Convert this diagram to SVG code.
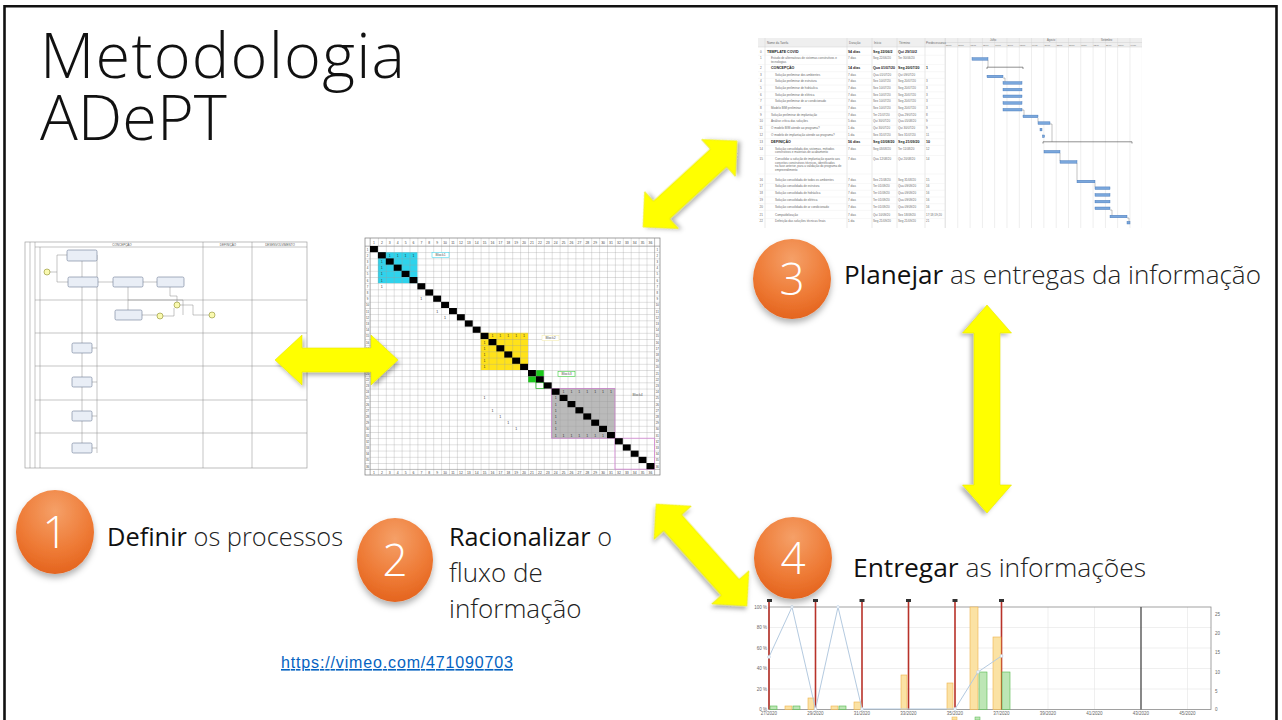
<svg xmlns="http://www.w3.org/2000/svg" width="1282" height="720" viewBox="0 0 1282 720">
<defs>
<style>
.ttl{font-family:"Open Sans","Lato",sans-serif;font-weight:300;font-size:63px;fill:#111}
.lbl{font-family:"Open Sans","Lato",sans-serif;font-weight:300;font-size:26px;fill:#222}
.lbl .b{font-weight:400;fill:#111}
.dig{font-family:"Open Sans","Lato",sans-serif;font-weight:300;font-size:44px;fill:#fff;text-anchor:middle}
.ya{fill:#FFFF00;stroke:#E6E600;stroke-width:.6;filter:url(#ash)}
.oc{fill:url(#og);filter:url(#csh)}
.link{font-family:"Liberation Sans",Arial,sans-serif;font-size:16px;fill:#0563C1;text-decoration:underline}
.bp{fill:#E9EEF6;stroke:#6C7B95;stroke-width:.6}
.bl{fill:none;stroke:#8a8a8a;stroke-width:.5}
.bev{fill:#FAFAB0;stroke:#8C8C2A;stroke-width:.6}
.tiny{font-family:"Liberation Sans",Arial,sans-serif;fill:#555}
.dn{font-size:3.4px;text-anchor:middle;fill:#444}
.d1{font-size:3.6px;text-anchor:middle;fill:#333}
.gt{font-size:3px;fill:#6a6a6a}
.gb{font-size:3.6px;font-weight:bold;fill:#222}
.gbar{fill:#7AA7DC;stroke:#3F72B5;stroke-width:.4}
.gsum{fill:none;stroke:#444;stroke-width:.6}
.ax{font-size:4.5px;fill:#666}
.yb{fill:#FBE2A4;stroke:#EDB24A;stroke-width:.6}
.gr{fill:#BDE6B5;stroke:#55B84C;stroke-width:.6}
.rl{stroke:#B8322A;stroke-width:1.6}
.gl{stroke:#E4E4E4;stroke-width:.6}
</style>
<radialGradient id="og" cx="50%" cy="25%" r="80%">
<stop offset="0" stop-color="#F5A068"/>
<stop offset="0.6" stop-color="#EE7A35"/>
<stop offset="1" stop-color="#E2601A"/>
</radialGradient>
<filter id="ash" x="-20%" y="-20%" width="140%" height="140%">
<feDropShadow dx="2" dy="3" stdDeviation="2" flood-color="#000" flood-opacity="0.3"/>
</filter>
<filter id="csh" x="-30%" y="-30%" width="160%" height="160%">
<feDropShadow dx="0" dy="4" stdDeviation="3" flood-color="#000" flood-opacity="0.3"/>
</filter>
<pattern id="dv" x="370" y="0" width="7.9" height="10" patternUnits="userSpaceOnUse"><path d="M0.2,0V10" stroke="#9a9a9a" stroke-width=".45"/></pattern>
<pattern id="dh" x="0" y="246" width="10" height="6.2" patternUnits="userSpaceOnUse"><path d="M0,0.2H10" stroke="#9a9a9a" stroke-width=".45"/></pattern>
<pattern id="gv" x="945" y="0" width="12.3" height="10" patternUnits="userSpaceOnUse"><path d="M0.25,0V10" stroke="#cfcfcf" stroke-width=".5"/></pattern>
<rect id="bk" width="7.9" height="6.2" fill="#000"/>
</defs>

<rect width="1282" height="720" fill="#fff"/>
<path d="M4.5,720V6.2H1276.5V720" fill="none" stroke="#111" stroke-width="2.6"/>

<g id="title">
<text class="ttl" x="40" y="78" textLength="365">Metodologia</text>
<text class="ttl" x="40" y="140">ADePT</text>
</g>

<!-- BPMN process screenshot -->
<g id="bpmn">
<rect x="25" y="242" width="282" height="226" fill="#fff" stroke="#a0a0a0" stroke-width=".7"/>
<path class="bl" d="M35,247H307M30,242V468M35,242V468M40,247V468M203,242V468M252,242V468M35,300H307M35,333H307M35,366H307M35,400H307M35,433H307"/>
<text class="tiny" font-size="3" x="122" y="245.6" text-anchor="middle">CONCEPÇÃO</text>
<text class="tiny" font-size="3" x="228" y="245.6" text-anchor="middle">DEFINIÇÃO</text>
<text class="tiny" font-size="3" x="280" y="245.6" text-anchor="middle">DESENVOLVIMENTO</text>
<path class="bl" stroke="#777" d="M50,272H57V255H67M57,272V282H68M82,261V277M98,282H113M143,282H157M170,287V296H177V302M128,287V310M142,315H157M163,316H174V308M128,300H183V315M180,305H193V315H209M82,287V343M82,353V377M82,387V411M82,421V443M97,255V453M92,348H97M92,382H97M92,416H97M92,448H97"/>
<rect class="bp" x="67" y="250" width="30" height="11" rx="1.5"/>
<rect class="bp" x="68" y="277" width="30" height="10" rx="1.5"/>
<rect class="bp" x="113" y="277" width="30" height="10" rx="1.5"/>
<rect class="bp" x="157" y="277" width="27" height="10" rx="1.5"/>
<rect class="bp" x="115" y="310" width="27" height="10" rx="1.5"/>
<rect class="bp" x="72" y="343" width="20" height="10" rx="1.5"/>
<rect class="bp" x="72" y="377" width="20" height="10" rx="1.5"/>
<rect class="bp" x="72" y="411" width="20" height="10" rx="1.5"/>
<rect class="bp" x="72" y="443" width="20" height="10" rx="1.5"/>
<circle class="bev" cx="47" cy="272" r="3"/>
<circle class="bev" cx="160" cy="316" r="3"/>
<circle class="bev" cx="177" cy="305" r="3"/>
<circle class="bev" cx="212" cy="315" r="3" stroke-width="1"/>
</g>

<!-- DSM matrix -->
<g id="dsm">
<rect x="365" y="238" width="295" height="237" fill="#fff"/>
<rect x="377.9" y="252.2" width="39.5" height="31" fill="#2FD3EC"/>
<rect x="480.6" y="332.8" width="47.4" height="37.2" fill="#FFE21A"/>
<rect x="551.7" y="388.6" width="63.2" height="49.6" fill="#BABABA"/>
<rect x="535.9" y="370" width="7.9" height="6.2" fill="#1DC81D"/>
<rect x="528" y="376.2" width="7.9" height="6.2" fill="#1DC81D"/>
<rect x="370" y="238" width="284.6" height="237" fill="url(#dv)"/>
<rect x="365" y="246" width="295" height="223.4" fill="url(#dh)"/>
<rect x="365" y="238" width="295" height="237" fill="none" stroke="#777" stroke-width=".7"/>
<path d="M365,246H660M365,469.4H660M370,238V475M654.6,238V475" stroke="#888" stroke-width=".5"/>
<rect x="551.7" y="388.6" width="63.2" height="49.6" fill="none" stroke="#C67CC6" stroke-width=".8"/>
<rect x="614.9" y="438.2" width="39.5" height="31" fill="none" stroke="#D98AD9" stroke-width=".8"/>
<rect x="535.9" y="382.4" width="7.9" height="6.2" fill="none" stroke="#1DB81D" stroke-width=".7"/>
<use href="#bk" x="370" y="246"/><use href="#bk" x="377.9" y="252.2"/><use href="#bk" x="385.8" y="258.4"/><use href="#bk" x="393.7" y="264.6"/><use href="#bk" x="401.6" y="270.8"/><use href="#bk" x="409.5" y="277"/><use href="#bk" x="417.4" y="283.2"/><use href="#bk" x="425.3" y="289.4"/><use href="#bk" x="433.2" y="295.6"/><use href="#bk" x="441.1" y="301.8"/><use href="#bk" x="449" y="308"/><use href="#bk" x="456.9" y="314.2"/><use href="#bk" x="464.8" y="320.4"/><use href="#bk" x="472.7" y="326.6"/><use href="#bk" x="480.6" y="332.8"/><use href="#bk" x="488.5" y="339"/><use href="#bk" x="496.4" y="345.2"/><use href="#bk" x="504.3" y="351.4"/><use href="#bk" x="512.2" y="357.6"/><use href="#bk" x="520.1" y="363.8"/><use href="#bk" x="528" y="370"/><use href="#bk" x="535.9" y="376.2"/><use href="#bk" x="543.8" y="382.4"/><use href="#bk" x="551.7" y="388.6"/><use href="#bk" x="559.6" y="394.8"/><use href="#bk" x="567.5" y="401"/><use href="#bk" x="575.4" y="407.2"/><use href="#bk" x="583.3" y="413.4"/><use href="#bk" x="591.2" y="419.6"/><use href="#bk" x="599.1" y="425.8"/><use href="#bk" x="607" y="432"/><use href="#bk" x="614.9" y="438.2"/><use href="#bk" x="622.8" y="444.4"/><use href="#bk" x="630.7" y="450.6"/><use href="#bk" x="638.6" y="456.8"/><use href="#bk" x="646.5" y="463"/>
<text class="tiny dn" y="244.2"><tspan x="374">1</tspan><tspan x="381.9">2</tspan><tspan x="389.8">3</tspan><tspan x="397.7">4</tspan><tspan x="405.6">5</tspan><tspan x="413.5">6</tspan><tspan x="421.4">7</tspan><tspan x="429.3">8</tspan><tspan x="437.2">9</tspan><tspan x="445.1">10</tspan><tspan x="453">11</tspan><tspan x="460.9">12</tspan><tspan x="468.8">13</tspan><tspan x="476.7">14</tspan><tspan x="484.6">15</tspan><tspan x="492.5">16</tspan><tspan x="500.4">17</tspan><tspan x="508.3">18</tspan><tspan x="516.2">19</tspan><tspan x="524.1">20</tspan><tspan x="532">21</tspan><tspan x="539.9">22</tspan><tspan x="547.8">23</tspan><tspan x="555.7">24</tspan><tspan x="563.6">25</tspan><tspan x="571.5">26</tspan><tspan x="579.4">27</tspan><tspan x="587.3">28</tspan><tspan x="595.2">29</tspan><tspan x="603.1">30</tspan><tspan x="611">31</tspan><tspan x="618.9">32</tspan><tspan x="626.8">33</tspan><tspan x="634.7">34</tspan><tspan x="642.6">35</tspan><tspan x="650.5">36</tspan></text>
<text class="tiny dn" y="473.6"><tspan x="374">1</tspan><tspan x="381.9">2</tspan><tspan x="389.8">3</tspan><tspan x="397.7">4</tspan><tspan x="405.6">5</tspan><tspan x="413.5">6</tspan><tspan x="421.4">7</tspan><tspan x="429.3">8</tspan><tspan x="437.2">9</tspan><tspan x="445.1">10</tspan><tspan x="453">11</tspan><tspan x="460.9">12</tspan><tspan x="468.8">13</tspan><tspan x="476.7">14</tspan><tspan x="484.6">15</tspan><tspan x="492.5">16</tspan><tspan x="500.4">17</tspan><tspan x="508.3">18</tspan><tspan x="516.2">19</tspan><tspan x="524.1">20</tspan><tspan x="532">21</tspan><tspan x="539.9">22</tspan><tspan x="547.8">23</tspan><tspan x="555.7">24</tspan><tspan x="563.6">25</tspan><tspan x="571.5">26</tspan><tspan x="579.4">27</tspan><tspan x="587.3">28</tspan><tspan x="595.2">29</tspan><tspan x="603.1">30</tspan><tspan x="611">31</tspan><tspan x="618.9">32</tspan><tspan x="626.8">33</tspan><tspan x="634.7">34</tspan><tspan x="642.6">35</tspan><tspan x="650.5">36</tspan></text>
<text class="tiny dn" style="font-size:2.8px"><tspan x="367.5" y="250.5">1</tspan><tspan x="367.5" y="256.7">2</tspan><tspan x="367.5" y="262.9">3</tspan><tspan x="367.5" y="269.1">4</tspan><tspan x="367.5" y="275.3">5</tspan><tspan x="367.5" y="281.5">6</tspan><tspan x="367.5" y="287.7">7</tspan><tspan x="367.5" y="293.9">8</tspan><tspan x="367.5" y="300.1">9</tspan><tspan x="367.5" y="306.3">10</tspan><tspan x="367.5" y="312.5">11</tspan><tspan x="367.5" y="318.7">12</tspan><tspan x="367.5" y="324.9">13</tspan><tspan x="367.5" y="331.1">14</tspan><tspan x="367.5" y="337.3">15</tspan><tspan x="367.5" y="343.5">16</tspan><tspan x="367.5" y="349.7">17</tspan><tspan x="367.5" y="355.9">18</tspan><tspan x="367.5" y="362.1">19</tspan><tspan x="367.5" y="368.3">20</tspan><tspan x="367.5" y="374.5">21</tspan><tspan x="367.5" y="380.7">22</tspan><tspan x="367.5" y="386.9">23</tspan><tspan x="367.5" y="393.1">24</tspan><tspan x="367.5" y="399.3">25</tspan><tspan x="367.5" y="405.5">26</tspan><tspan x="367.5" y="411.7">27</tspan><tspan x="367.5" y="417.9">28</tspan><tspan x="367.5" y="424.1">29</tspan><tspan x="367.5" y="430.3">30</tspan><tspan x="367.5" y="436.5">31</tspan><tspan x="367.5" y="442.7">32</tspan><tspan x="367.5" y="448.9">33</tspan><tspan x="367.5" y="455.1">34</tspan><tspan x="367.5" y="461.3">35</tspan><tspan x="367.5" y="467.5">36</tspan></text>
<text class="tiny dn" style="font-size:2.8px"><tspan x="657.3" y="250.5">1</tspan><tspan x="657.3" y="256.7">2</tspan><tspan x="657.3" y="262.9">3</tspan><tspan x="657.3" y="269.1">4</tspan><tspan x="657.3" y="275.3">5</tspan><tspan x="657.3" y="281.5">6</tspan><tspan x="657.3" y="287.7">7</tspan><tspan x="657.3" y="293.9">8</tspan><tspan x="657.3" y="300.1">9</tspan><tspan x="657.3" y="306.3">10</tspan><tspan x="657.3" y="312.5">11</tspan><tspan x="657.3" y="318.7">12</tspan><tspan x="657.3" y="324.9">13</tspan><tspan x="657.3" y="331.1">14</tspan><tspan x="657.3" y="337.3">15</tspan><tspan x="657.3" y="343.5">16</tspan><tspan x="657.3" y="349.7">17</tspan><tspan x="657.3" y="355.9">18</tspan><tspan x="657.3" y="362.1">19</tspan><tspan x="657.3" y="368.3">20</tspan><tspan x="657.3" y="374.5">21</tspan><tspan x="657.3" y="380.7">22</tspan><tspan x="657.3" y="386.9">23</tspan><tspan x="657.3" y="393.1">24</tspan><tspan x="657.3" y="399.3">25</tspan><tspan x="657.3" y="405.5">26</tspan><tspan x="657.3" y="411.7">27</tspan><tspan x="657.3" y="417.9">28</tspan><tspan x="657.3" y="424.1">29</tspan><tspan x="657.3" y="430.3">30</tspan><tspan x="657.3" y="436.5">31</tspan><tspan x="657.3" y="442.7">32</tspan><tspan x="657.3" y="448.9">33</tspan><tspan x="657.3" y="455.1">34</tspan><tspan x="657.3" y="461.3">35</tspan><tspan x="657.3" y="467.5">36</tspan></text>
<text class="tiny d1"><tspan x="389.75" y="256.7">1</tspan><tspan x="397.65" y="256.7">1</tspan><tspan x="405.55" y="256.7">1</tspan><tspan x="413.45" y="256.7">1</tspan><tspan x="381.85" y="263">1</tspan><tspan x="381.85" y="269.1">1</tspan><tspan x="381.85" y="275.3">1</tspan><tspan x="381.85" y="281.5">1</tspan><tspan x="381.85" y="287.7">1</tspan><tspan x="421.35" y="300.1">1</tspan><tspan x="437.15" y="312.5">1</tspan><tspan x="445.05" y="318.7">1</tspan><tspan x="492.45" y="337.3">1</tspan><tspan x="500.35" y="337.3">1</tspan><tspan x="508.25" y="337.3">1</tspan><tspan x="516.15" y="337.3">1</tspan><tspan x="524.05" y="337.3">1</tspan><tspan x="484.55" y="343.5">1</tspan><tspan x="484.55" y="349.7">1</tspan><tspan x="484.55" y="355.9">1</tspan><tspan x="484.55" y="362.1">1</tspan><tspan x="484.55" y="368.3">1</tspan><tspan x="563.55" y="393.1">1</tspan><tspan x="571.45" y="393.1">1</tspan><tspan x="579.35" y="393.1">1</tspan><tspan x="587.25" y="393.1">1</tspan><tspan x="595.15" y="393.1">1</tspan><tspan x="603.05" y="393.1">1</tspan><tspan x="610.95" y="393.1">1</tspan><tspan x="555.65" y="399.3">1</tspan><tspan x="555.65" y="405.5">1</tspan><tspan x="555.65" y="411.7">1</tspan><tspan x="555.65" y="417.9">1</tspan><tspan x="555.65" y="424.1">1</tspan><tspan x="555.65" y="430.3">1</tspan><tspan x="555.65" y="436.5">1</tspan><tspan x="563.55" y="436.5">1</tspan><tspan x="571.45" y="436.5">1</tspan><tspan x="579.35" y="436.5">1</tspan><tspan x="587.25" y="436.5">1</tspan><tspan x="595.15" y="436.5">1</tspan><tspan x="603.05" y="436.5">1</tspan><tspan x="484.55" y="399.3">1</tspan><tspan x="492.45" y="411.7">1</tspan><tspan x="500.35" y="417.9">1</tspan><tspan x="508.25" y="424.1">1</tspan><tspan x="516.15" y="430.3">1</tspan></text>
<rect x="432" y="252.5" width="17" height="5" fill="#fff" stroke="#2FD3EC" stroke-width=".5"/>
<text class="tiny" font-size="3.4" x="440.5" y="256.2" text-anchor="middle">Block1</text>
<rect x="542" y="335.5" width="17" height="5" fill="#fff" stroke="#F3E9A0" stroke-width=".5"/>
<text class="tiny" font-size="3.4" x="550.5" y="339.2" text-anchor="middle">Block2</text>
<rect x="558" y="371.5" width="17" height="5" fill="#fff" stroke="#1DC81D" stroke-width=".5"/>
<text class="tiny" font-size="3.4" x="566.5" y="375.2" text-anchor="middle">Block3</text>
<text class="tiny" font-size="3.4" x="637.5" y="395.5" text-anchor="middle">Block4</text>
</g>

<!-- Gantt chart screenshot -->
<g id="gantt">
<rect x="758" y="38" width="384" height="190" fill="#fff"/>
<rect x="758" y="38" width="384" height="9" fill="#EFEFEF"/>
<rect x="945" y="38" width="197" height="190" fill="url(#gv)"/>
<path d="M765,38V228M847,38V228M872,38V228M897,38V228M925,38V228M945,38V228M758,47H1142M945,42.5H1142" stroke="#d0d0d0" stroke-width=".5"/>
<path d="M758,55.3H945M758,64.6H945M758,71.7H945M758,78.4H945M758,85.1H945M758,91.8H945M758,98.5H945M758,105.2H945M758,111.9H945M758,118.6H945M758,125.3H945M758,132H945M758,138.7H945M758,145.4H945M758,155.5H945M758,174H945M758,183.6H945M758,190.3H945M758,197H945M758,203.7H945M758,210.4H945M758,218.6H945" stroke="#ececec" stroke-width=".4"/>
<g class="tiny">
<text class="gt" y="44.3"><tspan x="767">Nome da Tarefa</tspan><tspan x="849">Duração</tspan><tspan x="874">Início</tspan><tspan x="899">Término</tspan><tspan x="926">Predecessoras</tspan></text>
<text class="gt" y="41.4" style="font-size:2.6px"><tspan x="990">Julho</tspan><tspan x="1047">Agosto</tspan><tspan x="1101">Setembro</tspan></text>
<text class="gt" y="46" style="font-size:2.2px"><tspan x="946">21/06</tspan><tspan x="958.3">28/06</tspan><tspan x="970.6">05/07</tspan><tspan x="982.9">12/07</tspan><tspan x="995.2">19/07</tspan><tspan x="1007.5">26/07</tspan><tspan x="1019.8">02/08</tspan><tspan x="1032.1">09/08</tspan><tspan x="1044.4">16/08</tspan><tspan x="1056.7">23/08</tspan><tspan x="1069">30/08</tspan><tspan x="1081.3">06/09</tspan><tspan x="1093.6">13/09</tspan><tspan x="1105.9">20/09</tspan><tspan x="1118.2">27/09</tspan><tspan x="1130.5">04/10</tspan></text>
<text class="gt" x="760" y="52.8">0</text><text class="gb" y="52.8"><tspan x="767">TEMPLATE COVID</tspan><tspan x="848">94 dias</tspan><tspan x="873">Seg 22/06/2</tspan><tspan x="898">Qui 29/10/2</tspan></text>
<text class="gt" y="59"><tspan x="760">1</tspan><tspan x="771">Estudo de alternativas de sistemas construtivos e</tspan><tspan x="848">7 dias</tspan><tspan x="873">Seg 22/06/20</tspan><tspan x="898">Ter 30/06/20</tspan><tspan x="771" y="62.6">tecnologias</tspan></text>
<text class="gt" x="760" y="68.8">2</text><text class="gb" y="68.8"><tspan x="771">CONCEPÇÃO</tspan><tspan x="848">14 dias</tspan><tspan x="873">Qua 01/07/20</tspan><tspan x="898">Seg 20/07/20</tspan><tspan x="926">1</tspan></text>
<text class="gt" y="75.5"><tspan x="760">3</tspan><tspan x="775">Solução preliminar dos ambientes</tspan><tspan x="848">7 dias</tspan><tspan x="873">Qua 01/07/20</tspan><tspan x="898">Qui 09/07/20</tspan></text>
<text class="gt" y="82.2"><tspan x="760">4</tspan><tspan x="775">Solução preliminar de estrutura</tspan><tspan x="848">7 dias</tspan><tspan x="873">Sex 10/07/20</tspan><tspan x="898">Seg 20/07/20</tspan><tspan x="926">3</tspan></text>
<text class="gt" y="88.9"><tspan x="760">5</tspan><tspan x="775">Solução preliminar de hidráulica</tspan><tspan x="848">7 dias</tspan><tspan x="873">Sex 10/07/20</tspan><tspan x="898">Seg 20/07/20</tspan><tspan x="926">3</tspan></text>
<text class="gt" y="95.6"><tspan x="760">6</tspan><tspan x="775">Solução preliminar de elétrica</tspan><tspan x="848">7 dias</tspan><tspan x="873">Sex 10/07/20</tspan><tspan x="898">Seg 20/07/20</tspan><tspan x="926">3</tspan></text>
<text class="gt" y="102.3"><tspan x="760">7</tspan><tspan x="775">Solução preliminar de ar condicionado</tspan><tspan x="848">7 dias</tspan><tspan x="873">Sex 10/07/20</tspan><tspan x="898">Seg 20/07/20</tspan><tspan x="926">3</tspan></text>
<text class="gt" y="109"><tspan x="760">8</tspan><tspan x="771">Modelo BIM preliminar</tspan><tspan x="848">7 dias</tspan><tspan x="873">Sex 10/07/20</tspan><tspan x="898">Seg 20/07/20</tspan><tspan x="926">3</tspan></text>
<text class="gt" y="115.7"><tspan x="760">9</tspan><tspan x="771">Solução preliminar de implantação</tspan><tspan x="848">7 dias</tspan><tspan x="873">Ter 21/07/20</tspan><tspan x="898">Qua 29/07/20</tspan><tspan x="926">8</tspan></text>
<text class="gt" y="122.4"><tspan x="759.5">10</tspan><tspan x="771">Análise crítica das soluções</tspan><tspan x="848">5 dias</tspan><tspan x="873">Qui 30/07/20</tspan><tspan x="898">Qua 05/08/20</tspan><tspan x="926">9</tspan></text>
<text class="gt" y="129.1"><tspan x="759.5">11</tspan><tspan x="771">O modelo BIM atende ao programa?</tspan><tspan x="848">1 dia</tspan><tspan x="873">Qui 30/07/20</tspan><tspan x="898">Qui 30/07/20</tspan><tspan x="926">9</tspan></text>
<text class="gt" y="135.8"><tspan x="759.5">12</tspan><tspan x="771">O modelo de implantação atende ao programa?</tspan><tspan x="848">1 dia</tspan><tspan x="873">Sex 31/07/20</tspan><tspan x="898">Sex 31/07/20</tspan><tspan x="926">11</tspan></text>
<text class="gt" x="759.5" y="142.5">13</text><text class="gb" y="142.5"><tspan x="771">DEFINIÇÃO</tspan><tspan x="848">56 dias</tspan><tspan x="873">Seg 03/08/20</tspan><tspan x="898">Seg 21/09/20</tspan><tspan x="926">10</tspan></text>
<text class="gt" y="149.5"><tspan x="759.5">14</tspan><tspan x="775">Solução consolidada dos sistemas, métodos</tspan><tspan x="848">7 dias</tspan><tspan x="873">Seg 03/08/20</tspan><tspan x="898">Ter 11/08/20</tspan><tspan x="926">12</tspan><tspan x="775" y="153">construtivos e materiais de acabamento</tspan></text>
<text class="gt" y="160"><tspan x="759.5">15</tspan><tspan x="775">Consolidar a solução de implantação quanto aos</tspan><tspan x="848">7 dias</tspan><tspan x="873">Qua 12/08/20</tspan><tspan x="898">Qui 20/08/20</tspan><tspan x="926">14</tspan><tspan x="775" y="163.5">conceitos construtivos técnicos, identificados</tspan><tspan x="775" y="167">na fase anterior, para a validação do programa de</tspan><tspan x="775" y="170.5">empreendimento</tspan></text>
<text class="gt" y="180.7"><tspan x="759.5">16</tspan><tspan x="775">Solução consolidada de todos os ambientes</tspan><tspan x="848">7 dias</tspan><tspan x="873">Sex 21/08/20</tspan><tspan x="898">Seg 31/08/20</tspan><tspan x="926">15</tspan></text>
<text class="gt" y="187.4"><tspan x="759.5">17</tspan><tspan x="775">Solução consolidada de estrutura</tspan><tspan x="848">7 dias</tspan><tspan x="873">Ter 01/09/20</tspan><tspan x="898">Qua 09/09/20</tspan><tspan x="926">16</tspan></text>
<text class="gt" y="194.1"><tspan x="759.5">18</tspan><tspan x="775">Solução consolidada de hidráulica</tspan><tspan x="848">7 dias</tspan><tspan x="873">Ter 01/09/20</tspan><tspan x="898">Qua 09/09/20</tspan><tspan x="926">16</tspan></text>
<text class="gt" y="200.8"><tspan x="759.5">19</tspan><tspan x="775">Solução consolidada de elétrica</tspan><tspan x="848">7 dias</tspan><tspan x="873">Ter 01/09/20</tspan><tspan x="898">Qua 09/09/20</tspan><tspan x="926">16</tspan></text>
<text class="gt" y="207.5"><tspan x="759.5">20</tspan><tspan x="775">Solução consolidada de ar condicionado</tspan><tspan x="848">7 dias</tspan><tspan x="873">Ter 01/09/20</tspan><tspan x="898">Qua 09/09/20</tspan><tspan x="926">16</tspan></text>
<text class="gt" y="215.7"><tspan x="759.5">21</tspan><tspan x="775">Compatibilização</tspan><tspan x="848">7 dias</tspan><tspan x="873">Qui 10/09/20</tspan><tspan x="898">Sex 18/09/20</tspan><tspan x="926">17;18;19;20</tspan></text>
<text class="gt" y="222"><tspan x="759.5">22</tspan><tspan x="775">Definição das soluções técnicas finais</tspan><tspan x="848">1 dia</tspan><tspan x="873">Seg 21/09/20</tspan><tspan x="898">Seg 21/09/20</tspan><tspan x="926">21</tspan></text>
</g>
<rect class="gbar" x="972" y="57.6" width="16" height="2.6"/>
<path class="gsum" d="M987,69V67.2H1023V69"/>
<rect class="gbar" x="987" y="75.2" width="16" height="2.6"/>
<rect class="gbar" x="1003" y="81.6" width="19" height="2.6"/>
<rect class="gbar" x="1003" y="88.3" width="19" height="2.6"/>
<rect class="gbar" x="1003" y="95" width="19" height="2.6"/>
<rect class="gbar" x="1003" y="101.7" width="19" height="2.6"/>
<rect class="gbar" x="1003" y="108.4" width="19" height="2.6"/>
<rect class="gbar" x="1023" y="115.1" width="15" height="2.6"/>
<rect class="gbar" x="1038" y="121.8" width="12" height="2.6"/>
<rect class="gbar" x="1040" y="128.3" width="2" height="2.6"/>
<rect class="gbar" x="1042.5" y="135" width="2" height="2.6"/>
<path class="gsum" d="M1043,143.5V141.8H1132V143.5"/>
<rect class="gbar" x="1044" y="150.4" width="16" height="2.6"/>
<rect class="gbar" x="1060" y="160.6" width="17" height="2.6"/>
<rect class="gbar" x="1077" y="180.2" width="18" height="2.6"/>
<rect class="gbar" x="1095" y="186.9" width="15" height="2.6"/>
<rect class="gbar" x="1095" y="193.6" width="15" height="2.6"/>
<rect class="gbar" x="1095" y="200.3" width="15" height="2.6"/>
<rect class="gbar" x="1095" y="207" width="15" height="2.6"/>
<rect class="gbar" x="1110" y="215.2" width="17" height="2.6"/>
<rect class="gbar" x="1127" y="221.4" width="3" height="2.6"/>
<path d="M988,60V67M1003,78H1005V81.6M1022,110H1024V115M1038,118V121.8M1050,124H1052V141.8M1060,153V160.6M1077,163V180.2M1095,183V186.9M1110,210H1112V215.2M1127,218H1129V221.4" fill="none" stroke="#555" stroke-width=".35"/>
</g>

<!-- Delivery chart screenshot -->
<g id="chart">
<path class="gl" d="M769,627.5H1211M769,648H1211M769,668.5H1211M769,689H1211M1048,607V709.5M1094.5,607V709.5M1187.5,607V709.5"/>
<rect x="769" y="607" width="442" height="102.5" fill="none" stroke="#8a8a8a" stroke-width=".8"/>
<path class="rl" d="M769,601V709.5M815.5,601V709.5M862,601V709.5M908.5,601V709.5M955,601V709.5M1001.5,601V709.5"/>
<path d="M1141,607V709.5" stroke="#555" stroke-width="1.4"/>
<g fill="#333"><rect x="767" y="599" width="5" height="3"/><rect x="813" y="599" width="5" height="3"/><rect x="859.5" y="599" width="5" height="3"/><rect x="906" y="599" width="5" height="3"/><rect x="952.5" y="599" width="5" height="3"/><rect x="999" y="599" width="5" height="3"/></g>
<rect class="gr" x="770" y="706" width="7" height="3.5"/>
<rect class="yb" x="785" y="706" width="7" height="3.5"/>
<rect class="gr" x="793" y="706" width="7" height="3.5"/>
<rect class="yb" x="808" y="698" width="6" height="11.5"/>
<rect class="yb" x="831" y="706" width="7" height="3.5"/>
<rect class="gr" x="839" y="706" width="7" height="3.5"/>
<rect class="yb" x="854" y="702" width="7" height="7.5"/>
<rect class="yb" x="901" y="675" width="6" height="34.5"/>
<rect class="yb" x="947" y="683" width="6" height="26.5"/>
<rect class="yb" x="970" y="607" width="8" height="102.5"/>
<rect class="gr" x="979" y="672" width="8" height="37.5"/>
<rect class="yb" x="993" y="637" width="8" height="72.5"/>
<rect class="gr" x="1002" y="672" width="8" height="37.5"/>
<polyline points="769,657 792,607 815.5,709 838,607 862,709 955,709 978,672 1001.5,656" fill="none" stroke="#B4CAE0" stroke-width="1"/>
<g fill="#fff" stroke="#B4CAE0" stroke-width=".6"><circle cx="769" cy="657" r="1.4"/><circle cx="792" cy="607" r="1.4"/><circle cx="815.5" cy="709" r="1.4"/><circle cx="838" cy="607" r="1.4"/><circle cx="862" cy="709" r="1.4"/><circle cx="955" cy="709" r="1.4"/><circle cx="978" cy="672" r="1.4"/><circle cx="1001.5" cy="656" r="1.4"/></g>
<g class="tiny ax" text-anchor="end"><text x="767" y="609">100 %</text><text x="767" y="629">80 %</text><text x="767" y="650">60 %</text><text x="767" y="670">40 %</text><text x="767" y="691">20 %</text><text x="767" y="711">0 %</text></g>
<g class="tiny ax"><text x="1215" y="616">25</text><text x="1215" y="635">20</text><text x="1215" y="654">15</text><text x="1215" y="674">10</text><text x="1215" y="693">5</text><text x="1215" y="711">0</text></g>
<g class="tiny ax" text-anchor="middle"><text x="769" y="715">27/2020</text><text x="815.5" y="715">29/2020</text><text x="862" y="715">31/2020</text><text x="908.5" y="715">33/2020</text><text x="955" y="715">35/2020</text><text x="1001.5" y="715">37/2020</text><text x="1048" y="715">39/2020</text><text x="1094.5" y="715">41/2020</text><text x="1141" y="715">43/2020</text><text x="1187.5" y="715">45/2020</text></g>
<rect x="952" y="717" width="5" height="3" fill="#FBE2A4" stroke="#EDB24A" stroke-width=".5"/>
<rect x="975" y="717" width="5" height="3" fill="#BDE6B5" stroke="#55B84C" stroke-width=".5"/>
</g>

<!-- Connectors: yellow double arrows -->
<g id="connectors">
<path class="ya" transform="translate(336.5,360)" d="M-61.5,0L-34.5,-25V-12H34.5V-25L61.5,0L34.5,25V12H-34.5V25Z"/>
<path class="ya" transform="translate(690,184) rotate(-42.5)" d="M-63.7,0L-38.7,-25V-12H38.7V-25L63.7,0L38.7,25V12H-38.7V25Z"/>
<path class="ya" transform="translate(987,409) rotate(90)" d="M-104,0L-76,-24.5V-13H76V-24.5L104,0L76,24.5V13H-76V24.5Z"/>
<path class="ya" transform="translate(701.5,555) rotate(48.3)" d="M-68.3,0L-43.3,-25V-12H43.3V-25L68.3,0L43.3,25V12H-43.3V25Z"/>
</g>

<g id="step1">
<ellipse class="oc" cx="55" cy="532" rx="39" ry="42"/>
<text class="dig" x="55" y="548">1</text>
<text class="lbl" x="107" y="546" textLength="236" lengthAdjust="spacingAndGlyphs"><tspan class="b">Definir</tspan> os processos</text>
</g>
<g id="step2">
<ellipse class="oc" cx="395" cy="560" rx="38" ry="42"/>
<text class="dig" x="395" y="576">2</text>
<text class="lbl" x="449" y="546" textLength="163" lengthAdjust="spacingAndGlyphs"><tspan class="b">Racionalizar</tspan> o</text>
<text class="lbl" x="449" y="582">fluxo de</text>
<text class="lbl" x="449" y="618">informação</text>
</g>
<g id="step3">
<ellipse class="oc" cx="792" cy="279" rx="39" ry="40"/>
<text class="dig" x="792" y="295">3</text>
<text class="lbl" x="844" y="284" textLength="417" lengthAdjust="spacingAndGlyphs"><tspan class="b">Planejar</tspan> as entregas da informação</text>
</g>
<g id="step4">
<ellipse class="oc" cx="793" cy="558" rx="39" ry="41"/>
<text class="dig" x="793" y="574">4</text>
<text class="lbl" x="853" y="577" textLength="293" lengthAdjust="spacingAndGlyphs"><tspan class="b">Entregar</tspan> as informações</text>
</g>

<g id="link">
<text class="link" x="281" y="668" textLength="232">https://vimeo.com/471090703</text>
</g>
</svg>
